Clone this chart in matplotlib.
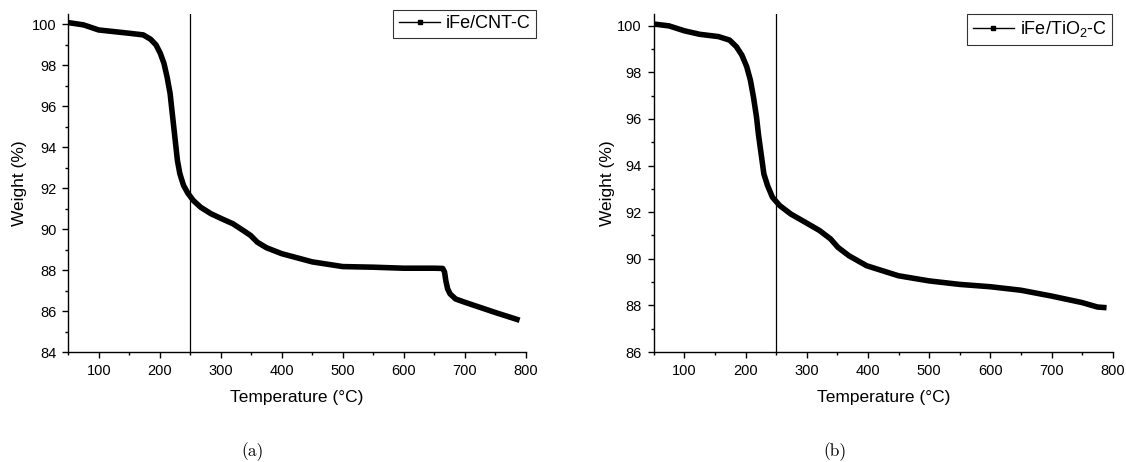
import matplotlib
matplotlib.use("Agg")
import matplotlib.pyplot as plt
from matplotlib.lines import Line2D
from matplotlib.ticker import MultipleLocator

plt.rcParams["font.family"] = ["Liberation Sans", "DejaVu Sans"]
plt.rcParams["mathtext.default"] = "regular"

# (a) iFe/CNT-C  -- temperature (C), weight (%)
temp_a = [50, 75, 100, 125, 150, 173, 185, 194, 201, 207, 212, 217, 220, 223, 226,
          229, 233, 239, 246, 255, 267, 284, 302, 320, 337, 349, 360, 375, 400,
          450, 500, 550, 600, 650, 664, 667, 669, 672, 676, 685, 700, 750, 790]
weight_a = [100.08, 99.97, 99.72, 99.64, 99.56, 99.48, 99.27, 98.99, 98.58, 98.09,
            97.44, 96.63, 95.81, 95.0, 94.18, 93.36, 92.71, 92.14, 91.76, 91.40,
            91.07, 90.75, 90.5, 90.26, 89.93, 89.69, 89.36, 89.09, 88.8, 88.4,
            88.17, 88.14, 88.09, 88.09, 88.08, 87.9, 87.49, 87.08, 86.84, 86.59,
            86.43, 85.93, 85.55]

# (b) iFe/TiO2-C
temp_b = [50, 75, 100, 125, 156, 174, 185, 194, 202, 208, 213, 218, 221, 224, 227,
          230, 236, 244, 256, 274, 298, 321, 339, 351, 369, 398, 450, 500, 550,
          600, 650, 700, 750, 775, 790]
weight_b = [100.07, 99.99, 99.78, 99.63, 99.53, 99.38, 99.10, 98.74, 98.24, 97.66,
            96.94, 96.08, 95.37, 94.79, 94.22, 93.64, 93.14, 92.64, 92.28, 91.92,
            91.56, 91.21, 90.85, 90.49, 90.13, 89.70, 89.27, 89.05, 88.9, 88.8,
            88.65, 88.4, 88.12, 87.93, 87.9]

marker_temp = 250

W, H = 1126, 462
fig = plt.figure(figsize=(W / 100, H / 100), dpi=100)
ax_a = fig.add_axes([68.2 / W, 1 - 352 / H, 457.5 / W, 338 / H])
ax_b = fig.add_axes([653.7 / W, 1 - 352 / H, 459 / W, 338 / H])

panels = [
    (ax_a, temp_a, weight_a, "iFe/CNT-C", (84, 100.5), "(a)", 253, (536, 10), -0.090),
    (ax_b, temp_b, weight_b, "iFe/TiO$_2$-C", (86, 100.5), "(b)", 835, (1112, 14), -0.084),
]

for ax, t, w, label, ylim, cap, capx, legpos, ylab_x in panels:
    ax.plot(t, w, color="black", lw=4.0, solid_capstyle="butt", solid_joinstyle="round")
    ax.axvline(marker_temp, color="black", lw=0.9)
    ax.set_xlim(50, 800)
    ax.set_ylim(*ylim)
    ax.xaxis.set_minor_locator(MultipleLocator(50))
    ax.yaxis.set_major_locator(MultipleLocator(2))
    ax.yaxis.set_minor_locator(MultipleLocator(1))
    ax.set_xticks([100, 200, 300, 400, 500, 600, 700, 800])
    for s in ("top", "right"):
        ax.spines[s].set_visible(False)
    for s in ("left", "bottom"):
        ax.spines[s].set_linewidth(1.0)
    ax.tick_params(which="major", direction="out", length=4.5, width=1.0, labelsize=10.5,
                   pad=4)
    ax.tick_params(which="minor", direction="out", length=2.5, width=1.0)
    ax.set_xlabel("Temperature (°C)", fontsize=12.5, labelpad=9)
    ax.set_ylabel("Weight (%)", fontsize=12.5)
    ax.yaxis.set_label_coords(ylab_x, 0.5)
    handle = Line2D([], [], color="black", lw=1.0, marker="s", markersize=3)
    leg = ax.legend([handle], [label], loc="upper right",
                    bbox_to_anchor=(legpos[0] / W, 1 - legpos[1] / H),
                    bbox_transform=fig.transFigure, borderaxespad=0,
                    fontsize=13, frameon=True, fancybox=False, handlelength=2.3,
                    borderpad=0.3, handletextpad=0.3)
    leg.get_frame().set_edgecolor("black")
    leg.get_frame().set_linewidth(0.8)
    fig.text(capx / W, 1 - 452 / H, cap, fontfamily="cmr10", fontsize=12.5,
             ha="center", va="center")

fig.savefig("out.png", dpi=100)
